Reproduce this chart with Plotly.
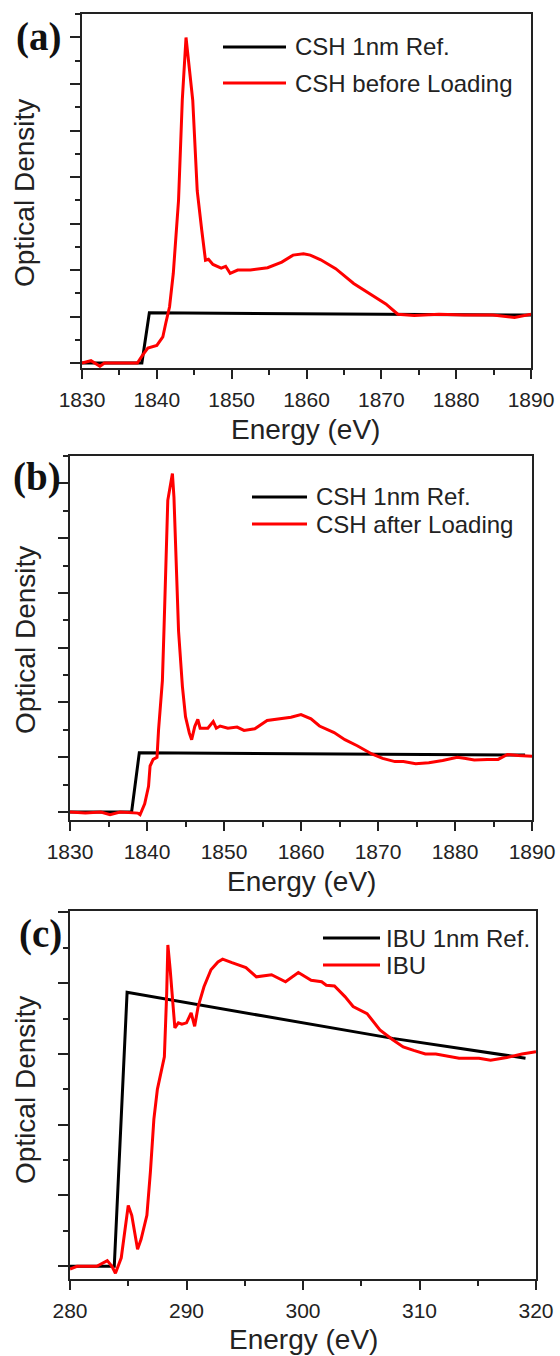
import plotly.graph_objects as go

# ---- data ----
# panel (a)
a_ref_e = [1830, 1838, 1839, 1890]
a_ref_od = [0, 0, 1.08, 1.03]
a_e = [1830, 1831.2, 1832.4, 1833, 1835, 1837.4, 1838.1, 1838.8, 1840, 1840.8, 1841.2, 1841.7,
       1842.2, 1842.7, 1842.9, 1843.4, 1843.9, 1844.8, 1845.4, 1846, 1846.5, 1846.9,
       1847.5, 1848.6, 1849.2, 1849.8, 1850.8, 1852.5, 1854.8, 1856.7, 1858.2, 1859.6, 1860.5,
       1861.9, 1863.9, 1866.3, 1869.2, 1870.6, 1872.2, 1874.4, 1877.7, 1881.1, 1884.9, 1887.8, 1890]
a_od = [0.0, 0.05, -0.07, 0.0, 0.0, 0.0, 0.17, 0.32, 0.38, 0.56, 0.86, 1.21,
        1.93, 3.22, 3.5, 5.65, 7.0, 5.65, 3.7, 2.86, 2.21, 2.23,
        2.12, 2.04, 2.08, 1.93, 2.0, 2.0, 2.05, 2.17, 2.32, 2.35, 2.32,
        2.22, 2.03, 1.71, 1.42, 1.27, 1.05, 1.02, 1.05, 1.03, 1.03, 0.98, 1.05]

# panel (b)
b_ref_e = [1830, 1838, 1839, 1889.1]
b_ref_od = [0, 0, 1.08, 1.04]
b_e = [1830, 1832, 1834, 1835.2, 1836.5, 1838.8, 1839.1, 1839.7, 1840.2, 1840.4, 1840.8, 1841.3,
       1841.5, 1842, 1842.2, 1842.7, 1843.3, 1843.5, 1844.1, 1844.6, 1845, 1845.5, 1845.8,
       1846.2, 1846.6, 1846.9, 1847.9, 1848.6, 1849, 1849.5, 1850.5, 1851.7, 1852.6, 1854,
       1855.6, 1857.4, 1858.7, 1860, 1861.3, 1862.4, 1864.3, 1865.7, 1867.3, 1869.2, 1870.6,
       1872.2, 1873.3, 1874.9, 1876.6, 1878.4, 1880.3, 1881.2, 1882.5, 1884.2, 1885.6, 1886.8,
       1888.2, 1890]
b_od = [0.0, -0.02, 0.0, -0.05, 0.0, -0.02, -0.05, 0.15, 0.47, 0.84, 0.96, 1.0,
        1.5, 2.4, 3.3, 5.69, 6.18, 5.75, 3.3, 2.29, 1.74, 1.44, 1.32,
        1.56, 1.69, 1.53, 1.53, 1.65, 1.53, 1.57, 1.53, 1.55, 1.49, 1.52,
        1.67, 1.71, 1.73, 1.78, 1.70, 1.57, 1.45, 1.32, 1.21, 1.06, 0.98,
        0.92, 0.92, 0.88, 0.90, 0.94, 1.0, 0.98, 0.95, 0.96, 0.96, 1.05,
        1.03, 1.02]

# panel (c)
c_ref_e = [280, 283.8, 284.9, 307.7, 319.1]
c_ref_od = [0, 0, 3.87, 3.22, 2.94]
c_e = [280, 280.6, 282.3, 283.2, 283.6, 283.9, 284.4, 284.7, 285, 285.3, 285.8, 286.1, 286.6,
       286.9, 287.2, 287.5, 287.8, 288.1, 288.3, 288.4, 288.6, 289, 289.3, 289.6, 290, 290.4,
       290.7, 291, 291.5, 292.1, 292.7, 293.1, 293.9, 295.1, 296, 297.3, 298.5, 299.6, 300.7,
       301.6, 302, 302.7, 303.6, 304.3, 305.5, 306.6, 307.7, 308.6, 309.5, 310.5, 311.4, 312.5,
       313.4, 315.1, 316.1, 317.5, 318.8, 320]
c_od = [-0.04, 0.0, 0.0, 0.08, 0.0, -0.1, 0.12, 0.48, 0.86, 0.72, 0.24, 0.38, 0.72,
        1.33, 2.08, 2.5, 2.74, 2.96, 3.86, 4.54, 4.19, 3.37, 3.44, 3.42, 3.44, 3.58,
        3.39, 3.67, 3.95, 4.19, 4.30, 4.34, 4.29, 4.22, 4.09, 4.12, 4.02, 4.15, 4.04,
        4.02, 3.97, 3.96, 3.81, 3.67, 3.57, 3.34, 3.2, 3.1, 3.05, 3.0, 3.0, 2.97,
        2.94, 2.94, 2.91, 2.95, 3.0, 3.03]

W, H = 560, 1356


def px(x):
    return x / W


def py(y):
    return 1 - y / H


fig = go.Figure()
RED = '#ff0000'
BLACK = '#000000'

panels = [
    ('x', 'y', a_ref_e, a_ref_od, a_e, a_od, 'CSH 1nm Ref.', 'CSH before Loading'),
    ('x2', 'y2', b_ref_e, b_ref_od, b_e, b_od, 'CSH 1nm Ref.', 'CSH after Loading'),
    ('x3', 'y3', c_ref_e, c_ref_od, c_e, c_od, 'IBU 1nm Ref.', 'IBU'),
]
for xa, ya, re, ro, se, so, rname, sname in panels:
    fig.add_trace(go.Scatter(x=re, y=ro, mode='lines', name=rname, showlegend=False,
                             line=dict(color=BLACK, width=3), xaxis=xa, yaxis=ya))
    fig.add_trace(go.Scatter(x=se, y=so, mode='lines', name=sname, showlegend=False,
                             line=dict(color=RED, width=3), xaxis=xa, yaxis=ya))

AX = '#222222'


def xaxis(rng, dom, anchor):
    return dict(range=rng, domain=dom, anchor=anchor, showline=True, mirror=True, linecolor=AX,
                linewidth=1.5, ticks='outside', ticklen=9, tickwidth=1.5, tickcolor=AX, dtick=10,
                minor=dict(ticks='outside', ticklen=5, dtick=5, tickcolor=AX, tickwidth=1.5),
                showgrid=False, zeroline=False, ticklabelstandoff=3, automargin=False,
                tickfont=dict(size=21, color='#222'))


def yaxis(rng, dom, anchor):
    return dict(range=rng, domain=dom, anchor=anchor, showline=True, mirror=True, linecolor=AX,
                linewidth=1.5, ticks='outside', ticklen=10, tickwidth=1.5, tickcolor=AX, dtick=1,
                minor=dict(ticks='outside', ticklen=5, dtick=0.5, tickcolor=AX, tickwidth=1.5),
                showticklabels=False, showgrid=False, zeroline=False, automargin=False)


fig.update_layout(
    width=W, height=H, margin=dict(l=0, r=0, t=0, b=0, autoexpand=False),
    paper_bgcolor='white', plot_bgcolor='white', showlegend=False,
    font=dict(family='Arial, Liberation Sans, sans-serif', color='#222'),
    xaxis=xaxis([1830, 1890], [px(82), px(531)], 'y'),
    yaxis=yaxis([-0.107, 7.505], [py(368), py(14)], 'x'),
    xaxis2=xaxis([1830, 1890], [px(70), px(532)], 'y2'),
    yaxis2=yaxis([-0.146, 6.5], [py(820), py(456)], 'x2'),
    xaxis3=xaxis([280, 320], [px(70), px(536)], 'y3'),
    yaxis3=yaxis([-0.18, 5.02], [py(1279), py(911)], 'x3'),
)

anns = []
shapes = []
# hand-placed legends: (sample x0, x1, text x, row y's, names)
legends = [
    (223, 286, 293, [47, 83], ['CSH 1nm Ref.', 'CSH before Loading']),
    (252, 307, 314, [497, 524], ['CSH 1nm Ref.', 'CSH after Loading']),
    (323, 380, 384, [938, 965], ['IBU 1nm Ref.', 'IBU']),
]
for x0, x1, tx, ys, names in legends:
    for y, name, col in zip(ys, names, [BLACK, RED]):
        shapes.append(dict(type='line', xref='paper', yref='paper', x0=px(x0), x1=px(x1),
                           y0=py(y), y1=py(y), line=dict(color=col, width=3)))
        anns.append(dict(text=name, x=px(tx), y=py(y), xref='paper', yref='paper',
                         showarrow=False, xanchor='left', yanchor='middle',
                         font=dict(size=24, color='#222')))

for label, x, y in [('(a)', 38, 37), ('(b)', 37, 477), ('(c)', 40, 934)]:
    anns.append(dict(text='<b>' + label + '</b>', x=px(x), y=py(y), xref='paper', yref='paper',
                     showarrow=False, xanchor='center', yanchor='middle',
                     font=dict(family='Liberation Serif, Times New Roman, serif', size=39, color='#111')))
for x, y in [(306, 429), (301, 881), (303, 1339)]:
    anns.append(dict(text='Energy (eV)', x=px(x), y=py(y), xref='paper', yref='paper',
                     showarrow=False, xanchor='center', yanchor='middle',
                     font=dict(size=28, color='#222')))
for y in [193, 640, 1090]:
    anns.append(dict(text='Optical Density', x=px(25), y=py(y), xref='paper', yref='paper',
                     showarrow=False, xanchor='center', yanchor='middle', textangle=-90,
                     font=dict(size=28, color='#222')))
fig.update_layout(annotations=anns, shapes=shapes)

fig.write_html("out.html", config={'displayModeBar': False},
               post_script="document.body.style.margin='0px';")
